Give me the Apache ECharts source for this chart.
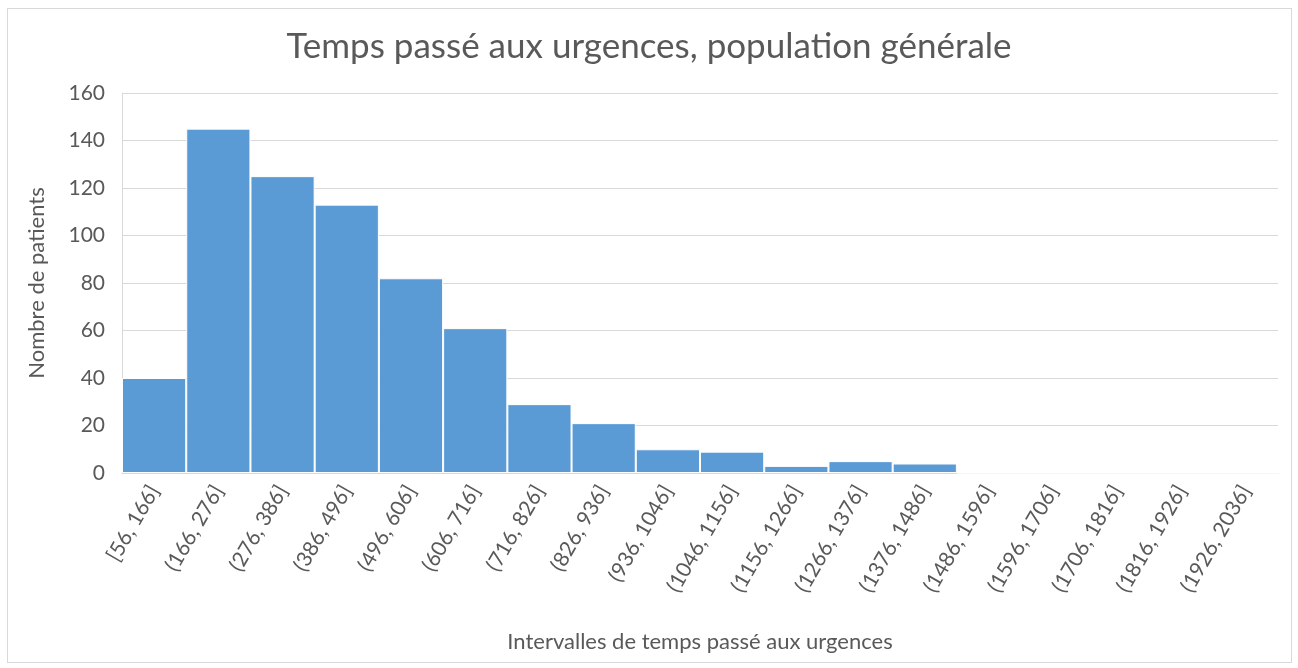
<!DOCTYPE html>
<html lang="fr">
<head>
    <meta charset="UTF-8">
    <title>Temps passé aux urgences</title>
    <script src="https://cdn.jsdelivr.net/npm/echarts@6/dist/echarts.min.js"></script>
    <style>
        body { margin: 0; background: #fff; }
        #frame { position: absolute; left: 7px; top: 8px; width: 1283px; height: 653px; border: 1px solid #d9d9d9; }
        #main { width: 1298px; height: 668px; }
    </style>
</head>
<body>
    <div id="frame"></div>
    <div id="main"></div>

    <script type="text/javascript">
        const intervals = ['[56, 166]', '(166, 276]', '(276, 386]', '(386, 496]', '(496, 606]', '(606, 716]',
            '(716, 826]', '(826, 936]', '(936, 1046]', '(1046, 1156]', '(1156, 1266]', '(1266, 1376]',
            '(1376, 1486]', '(1486, 1596]', '(1596, 1706]', '(1706, 1816]', '(1816, 1926]', '(1926, 2036]'];
        const patients = [40, 145, 125, 113, 82, 61, 29, 21, 10, 9, 3, 5, 4, 0, 0, 0, 0, 0];
        const yTicks = [0, 20, 40, 60, 80, 100, 120, 140, 160];

        const grey = '#595959';
        const font = 'Lato, "Open Sans", sans-serif';

        let myChart = echarts.init(document.getElementById('main'));
        myChart.setOption({
            animation: false,
            title: {
                text: 'Temps passé aux urgences, population générale',
                left: 'center', top: 24,
                textStyle: { fontFamily: font, fontSize: 35, fontWeight: 'normal', color: grey }
            },
            grid: { left: 122, right: 20, top: 93, bottom: 195 },
            xAxis: {
                type: 'category',
                data: intervals,
                name: 'Intervalles de temps passé aux urgences',
                nameLocation: 'middle',
                nameGap: 158,
                nameTextStyle: { fontFamily: font, fontSize: 22, color: grey },
                axisLine: { lineStyle: { color: '#d9d9d9' } },
                axisTick: { show: false },
                axisLabel: { rotate: 60, interval: 0, margin: 14, fontFamily: font, fontSize: 21, color: grey }
            },
            yAxis: {
                type: 'value',
                min: yTicks[0],
                max: yTicks[yTicks.length - 1],
                interval: yTicks[1] - yTicks[0],
                name: 'Nombre de patients',
                nameLocation: 'middle',
                nameGap: 74,
                nameTextStyle: { fontFamily: font, fontSize: 22, color: grey },
                axisLine: { show: true, lineStyle: { color: '#d9d9d9' } },
                axisLabel: { margin: 17, fontFamily: font, fontSize: 21, color: grey },
                splitLine: { lineStyle: { color: '#d9d9d9' } }
            },
            series: [{
                name: 'Nombre de patients',
                type: 'bar',
                data: patients,
                barCategoryGap: 0,
                itemStyle: { color: '#5b9bd5', borderColor: '#ffffff', borderWidth: 1 }
            }]
        });
    </script>
</body>
</html>
